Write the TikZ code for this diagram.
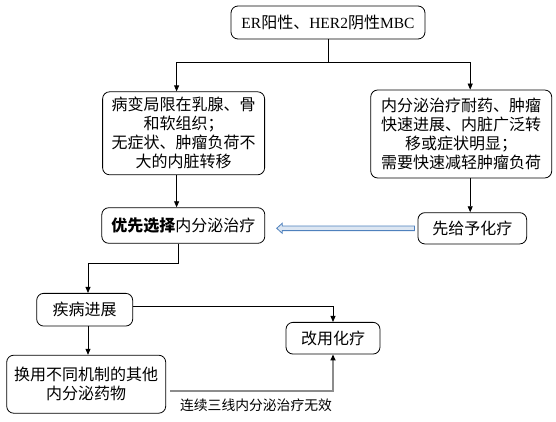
\documentclass[tikz,border=0pt]{standalone}
\usepackage{fontspec}
\newfontfamily\cjk{Noto Sans CJK SC}
\newfontfamily\lat{Liberation Serif}
\usetikzlibrary{arrows.meta,calc}
\definecolor{hollowline}{RGB}{79,129,189}
\definecolor{hollowfill}{RGB}{220,230,242}
\begin{document}
\begin{tikzpicture}[x=1pt,y=-1pt,
  box/.style={draw, line width=0.8pt, rounded corners=7pt, align=center, inner sep=0pt,
    font=\cjk\fontsize{16}{19}\selectfont},
  arr/.style={line width=0.8pt, -{Triangle[length=6pt,width=5pt]}},
  grayarr/.style={line width=1.5pt, draw=black!45, -{Triangle[length=6pt,width=5pt,fill=black,color=black]}},
  hollowarrow/.style={draw=hollowline, line width=0.8pt, fill=hollowfill},
  lbl/.style={font=\cjk\fontsize{13.8}{16}\selectfont, inner sep=0pt}]
\useasboundingbox (0,0) rectangle (556,422);
\node[box, minimum width=194pt, minimum height=33pt] (top) at (328,22.5)
  {\lat\fontsize{15.5}{17}\selectfont ER\cjk\fontsize{16}{19}\selectfont 阳性、\lat\fontsize{15.5}{17}\selectfont HER2\cjk\fontsize{16}{19}\selectfont 阴性\lat\fontsize{15.5}{17}\selectfont MBC};
\node[box, minimum width=162pt, minimum height=83pt] (L) at (183.6,133.3)
  {病变局限在乳腺、骨\\和软组织；\\无症状、肿瘤负荷不\\大的内脏转移};
\node[box, minimum width=181pt, minimum height=88pt] (R) at (461.2,134)
  {内分泌治疗耐药、肿瘤\\快速进展、内脏广泛转\\移或症状明显；\\需要快速减轻肿瘤负荷};
\node[box, minimum width=163pt, minimum height=35.6pt] (P) at (183.3,225.5)
  {{\bfseries 优先选择}内分泌治疗};
\node[box, minimum width=108.7pt, minimum height=31.3pt] (G) at (472.3,228.3)
  {先给予化疗};
\node[box, minimum width=96pt, minimum height=32.7pt] (D) at (84.7,309.7)
  {疾病进展};
\node[box, minimum width=94pt, minimum height=31.7pt] (C) at (333,338.2)
  {改用化疗};
\node[box, minimum width=159pt, minimum height=58pt] (H) at (86.2,384.2)
  {换用不同机制的其他\\内分泌药物};
\node[lbl] (note) at (256,405) {连续三线内分泌治疗无效};
% connectors
\coordinate (bus) at (328,62);
\draw[line width=0.8pt] (top.south) -- (bus);
\draw[arr] (bus) -| ([xshift=-7pt]L.north);
\draw[arr] (bus) -| ([xshift=9pt]R.north);
\draw[arr] ([xshift=-7pt]L.south) -- ([xshift=-7pt]L.south |- P.north);
\draw[arr] ([xshift=9pt]R.south) -- ([xshift=9pt]R.south |- G.north);
\coordinate (k) at (178,263);
\draw[arr] ([xshift=-5.3pt]P.south) -- ([xshift=-5.3pt]P.south |- k) -| ([xshift=3.3pt]D.north);
\draw[arr] ([yshift=3pt]D.east) -| (C.north);
\draw[arr] ([xshift=3.3pt]D.south) -- ([xshift=3.3pt]D.south |- H.north);
\draw[grayarr] ([xshift=4pt,yshift=-7pt]H.east) -| (C.south);
% hollow block arrow
\coordinate (ha) at ([xshift=-3pt]G.west);
\coordinate (hb0) at ([xshift=11.5pt]P.east);
\coordinate (hb) at (hb0 |- ha);
\draw[hollowarrow] ($(ha)+(0,-2.3)$) -- ($(hb)+(5.5,-2.3)$) -- ($(hb)+(5.5,-5)$) -- (hb)
  -- ($(hb)+(5.5,5)$) -- ($(hb)+(5.5,2.3)$) -- ($(ha)+(0,2.3)$) -- cycle;
\end{tikzpicture}
\end{document}
